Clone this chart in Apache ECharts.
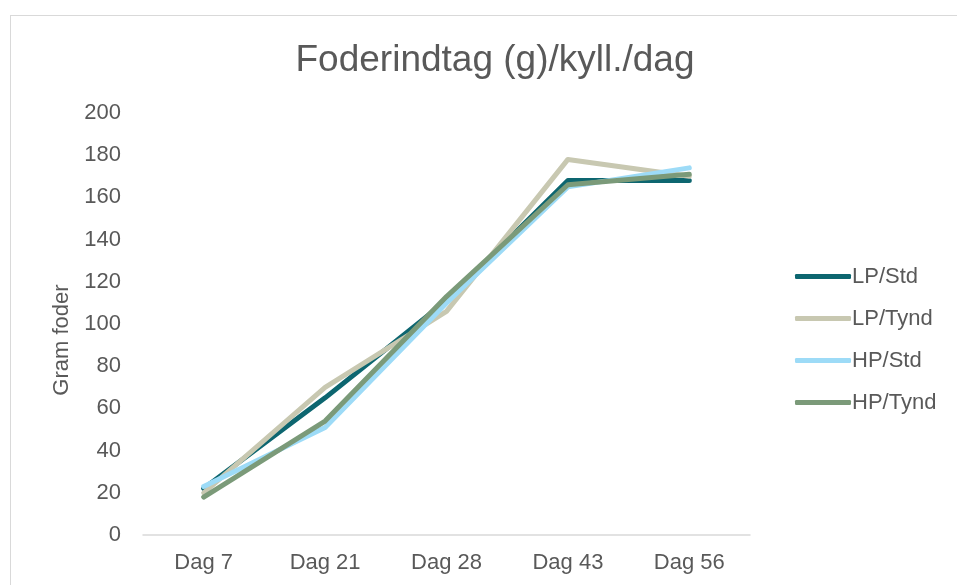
<!DOCTYPE html>
<html>
<head>
<meta charset="utf-8">
<script src="https://cdn.jsdelivr.net/npm/echarts@6/dist/echarts.min.js"></script>
<style>
  html, body { margin: 0; padding: 0; background: #fff; }
  #frame {
    position: absolute; left: 10px; top: 15px; width: 1000px; height: 620px;
    border: 1px solid #d9d9d9; box-sizing: border-box;
  }
  #chart { position: absolute; left: 0; top: 0; width: 957px; height: 585px; }
</style>
</head>
<body>
<div id="frame"></div>
<div id="chart"></div>
<script>
const days = ['Dag 7', 'Dag 21', 'Dag 28', 'Dag 43', 'Dag 56']
const lpStd = [22, 65, 111, 168, 168]
const lpTynd = [20, 70, 106, 178, 170]
const hpStd = [23, 51, 110, 165, 174]
const hpTynd = [18, 54, 113, 166, 171]

const chart = echarts.init(document.getElementById('chart'))
const font = 'Liberation Sans, Arial, sans-serif'

const makeLine = (name, data, color) => ({
  name,
  type: 'line',
  data,
  symbol: 'none',
  lineStyle: { width: 5, color, cap: 'round', join: 'round' },
  itemStyle: { color }
})

chart.setOption({
  animation: false,
  textStyle: { fontFamily: font },
  title: {
    text: 'Foderindtag (g)/kyll./dag',
    left: 490,
    top: 37,
    textAlign: 'center',
    textStyle: { fontSize: 37, fontWeight: 'normal', color: '#595959', fontFamily: font }
  },
  legend: {
    orient: 'vertical',
    left: 790,
    top: 260,
    itemWidth: 56,
    itemHeight: 5,
    itemGap: 19,
    icon: 'roundRect',
    textStyle: { fontSize: 22, lineHeight: 23, color: '#595959', fontFamily: font, padding: [0, 0, 0, -4] },
    data: ['LP/Std', 'LP/Tynd', 'HP/Std', 'HP/Tynd']
  },
  grid: { left: 143, right: 207, top: 113, bottom: 50 },
  xAxis: {
    type: 'category',
    data: days,
    boundaryGap: true,
    axisLine: { lineStyle: { color: '#d9d9d9', width: 1.5 } },
    axisTick: { show: false },
    axisLabel: { fontSize: 22, color: '#595959', margin: 17 }
  },
  yAxis: {
    type: 'value',
    min: 0,
    max: 200,
    interval: 20,
    name: 'Gram foder',
    nameLocation: 'middle',
    nameGap: 70,
    nameTextStyle: { fontSize: 22, color: '#595959', padding: [0, 32, 0, 0] },
    axisLine: { show: false },
    axisTick: { show: false },
    splitLine: { show: false },
    axisLabel: { fontSize: 22, color: '#595959', margin: 22 }
  },
  series: [
    makeLine('LP/Std', lpStd, '#0d6670'),
    makeLine('LP/Tynd', lpTynd, '#c8c8b1'),
    makeLine('HP/Std', hpStd, '#9ddbf7'),
    makeLine('HP/Tynd', hpTynd, '#7b9a79')
  ]
})
</script>
</body>
</html>
